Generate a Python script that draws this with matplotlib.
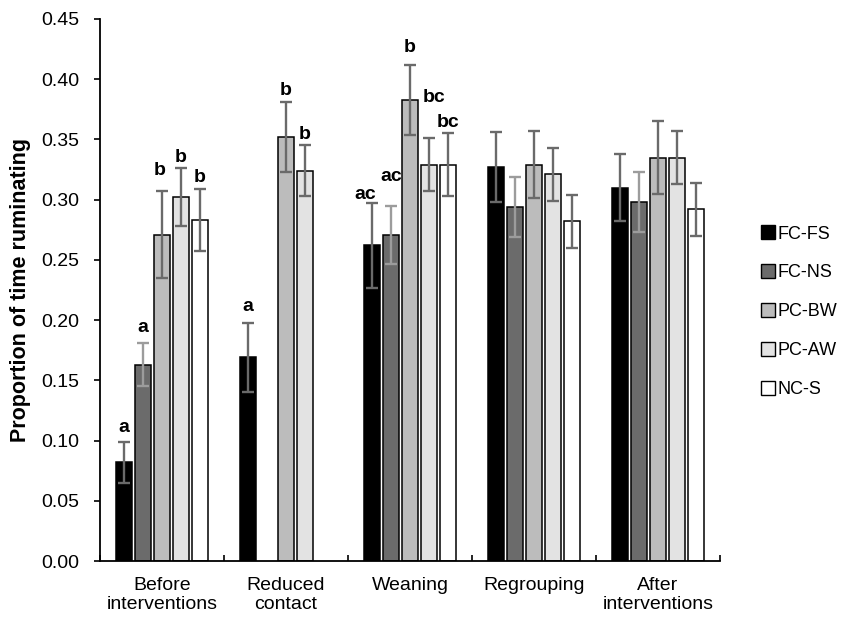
import numpy as np
import matplotlib
matplotlib.use('Agg')
import matplotlib.pyplot as plt
from matplotlib.patches import Patch

plt.rcParams['font.family'] = ['Liberation Sans', 'DejaVu Sans']

categories = ['Before\ninterventions', 'Reduced\ncontact', 'Weaning', 'Regrouping', 'After\ninterventions']
series = ['FC-FS', 'FC-NS', 'PC-BW', 'PC-AW', 'NC-S']

fc_fs = [0.082, 0.169, 0.262, 0.327, 0.310]
fc_ns = [0.163, np.nan, 0.271, 0.294, 0.298]
pc_bw = [0.271, 0.352, 0.383, 0.329, 0.335]
pc_aw = [0.302, 0.324, 0.329, 0.321, 0.335]
nc_s = [0.283, np.nan, 0.329, 0.282, 0.292]

fc_fs_err = [0.017, 0.029, 0.035, 0.029, 0.028]
fc_ns_err = [0.018, np.nan, 0.024, 0.025, 0.025]
pc_bw_err = [0.036, 0.029, 0.029, 0.028, 0.030]
pc_aw_err = [0.024, 0.021, 0.022, 0.022, 0.022]
nc_s_err = [0.026, np.nan, 0.026, 0.022, 0.022]

fc_fs_letters = ['a', 'a', 'ac', '', '']
fc_ns_letters = ['a', '', 'ac', '', '']
pc_bw_letters = ['b', 'b', 'b', '', '']
pc_aw_letters = ['b', 'b', 'bc', '', '']
nc_s_letters = ['b', '', 'bc', '', '']

yticks = [0.00, 0.05, 0.10, 0.15, 0.20, 0.25, 0.30, 0.35, 0.40, 0.45]

values = [fc_fs, fc_ns, pc_bw, pc_aw, nc_s]
errors = [fc_fs_err, fc_ns_err, pc_bw_err, pc_aw_err, nc_s_err]
letters = [fc_fs_letters, fc_ns_letters, pc_bw_letters, pc_aw_letters, nc_s_letters]

# styling
fill_colors = ['#000000', '#6b6b6b', '#bcbcbc', '#e3e3e3', '#ffffff']
err_colors = ['#6a6a6a', '#9c9c9c', '#6a6a6a', '#6a6a6a', '#6a6a6a']
# label offsets in points (dx, dy) relative to error-bar top
default_off = (0, 6)
label_off = {
    (0, 0): (0, 7), (1, 0): (0, 8), (2, 0): (-2, 12), (3, 0): (0, 4.5), (4, 0): (0, 5),
    (0, 1): (0, 8), (2, 1): (0, 5), (3, 1): (0, 4.5),
    (0, 2): (-5, 3), (1, 2): (0, 18), (2, 2): (0, 9), (3, 2): (4, 26), (4, 2): (0, 4.5),
}

fig = plt.figure(figsize=(8.51, 6.27), dpi=100)
ax = fig.add_axes([100 / 851, 1 - 561 / 627, 620 / 851, 542 / 627])

x = np.arange(len(categories))
slot = 0.153
bw = 0.132
for i, (vals, errs) in enumerate(zip(values, errors)):
    pos = x + (i - 2) * slot
    ax.bar(pos, vals, width=bw, color=fill_colors[i], edgecolor='black',
           linewidth=1.1, zorder=2)
    ax.errorbar(pos, vals, yerr=errs, fmt='none', ecolor=err_colors[i],
                elinewidth=1.7, capsize=4.3, capthick=1.7, zorder=3)
    for j in range(len(categories)):
        lab = letters[i][j]
        if lab and not np.isnan(vals[j]):
            dx, dy = label_off.get((i, j), default_off)
            ax.annotate(lab, (pos[j], vals[j] + errs[j]), xytext=(dx, dy),
                        textcoords='offset points', ha='center', va='baseline',
                        fontsize=14, fontweight='bold', zorder=4)

ax.set_xlim(-0.5, len(categories) - 0.5)
ax.set_ylim(0, 0.45)
ax.set_yticks(yticks)
ax.set_yticklabels([f'{t:.2f}' for t in yticks], fontsize=14)
ax.set_xticks(np.arange(len(categories) + 1) - 0.5)
ax.set_xticklabels([])
ax.set_xticks(x, minor=True)
ax.set_xticklabels(categories, minor=True, fontsize=14, linespacing=1.15)
ax.tick_params(axis='x', which='major', direction='in', length=4, width=1.2)
ax.tick_params(axis='x', which='minor', length=0, pad=11.5)
ax.tick_params(axis='y', direction='out', length=4, width=1.2, pad=11)
for s in ['top', 'right']:
    ax.spines[s].set_visible(False)
for s in ['left', 'bottom']:
    ax.spines[s].set_linewidth(1.3)
ax.set_ylabel('Proportion of time ruminating', fontsize=15.5, fontweight='bold', labelpad=7)

handles = [Patch(facecolor=fill_colors[i], edgecolor='black', linewidth=1.0) for i in range(5)]
fig.legend(handles, series, loc='center left', bbox_to_anchor=(0.894, 0.503),
           frameon=False, fontsize=13, handlelength=0.8, handleheight=0.8,
           handletextpad=0.15, labelspacing=1.2, borderpad=0, borderaxespad=0)

fig.savefig('out.png', dpi=100)
